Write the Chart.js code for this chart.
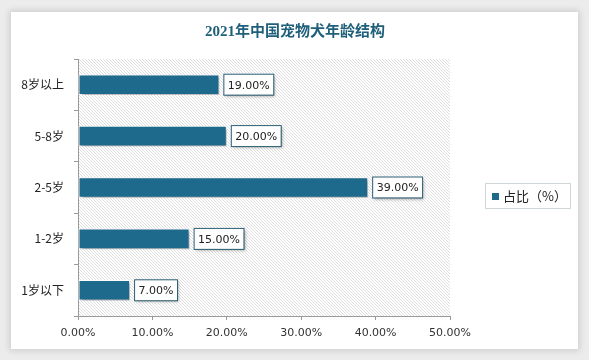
<!DOCTYPE html>
<html>
<head>
<meta charset="utf-8">
<script src="https://cdn.jsdelivr.net/npm/chart.js@4"></script>
<style>
  html, body { margin: 0; padding: 0; background: #ececec; }
  #wrap { position: relative; width: 589px; height: 360px; overflow: hidden; }
  #card { position: absolute; left: 11px; top: 12px; width: 567px; height: 337px;
          background: #fff; box-shadow: 0 0 6px 2px rgba(0,0,0,0.12); }
  #c { position: absolute; left: 0; top: 0; }
</style>
</head>
<body>
<div id="wrap">
  <div id="card"></div>
  <canvas id="c" width="589" height="360"></canvas>
</div>
<script>
const title = "2021年中国宠物犬年龄结构";
const categories = ["8岁以上", "5-8岁", "2-5岁", "1-2岁", "1岁以下"];
const shares = [19, 20, 39, 15, 7];
const seriesName = "占比（%）";

const barColor = "#1e6a8d";

// hatched plot background + title
const hatch = {
  id: "hatch",
  beforeDraw(chart) {
    const { ctx, chartArea: a } = chart;
    ctx.save();
    ctx.beginPath();
    ctx.rect(a.left, a.top, a.right - a.left, a.bottom - a.top);
    ctx.clip();
    ctx.strokeStyle = "#d6d6d6";
    ctx.lineWidth = 0.8;
    const h = a.bottom - a.top;
    for (let x = a.left - h; x < a.right; x += 3) {
      ctx.beginPath();
      ctx.moveTo(x, a.top);
      ctx.lineTo(x + h, a.bottom);
      ctx.stroke();
    }
    ctx.restore();

    ctx.save();
    ctx.fillStyle = "#1f5f7a";
    ctx.font = "bold 15px 'Liberation Serif', 'Noto Sans CJK SC', serif";
    ctx.textAlign = "center";
    ctx.textBaseline = "middle";
    ctx.fillText(title, 295, 32);
    ctx.restore();
  }
};

const shadow = {
  id: "shadow",
  beforeDatasetsDraw(chart) {
    const ctx = chart.ctx;
    ctx.save();
    ctx.shadowColor = "rgba(0,0,0,0.35)";
    ctx.shadowOffsetX = 2;
    ctx.shadowOffsetY = 2;
    ctx.shadowBlur = 3;
  },
  afterDatasetsDraw(chart) {
    const ctx = chart.ctx;
    ctx.restore();
    // value labels
    const meta = chart.getDatasetMeta(0);
    ctx.save();
    ctx.font = "11px 'DejaVu Sans', sans-serif";
    ctx.textBaseline = "middle";
    meta.data.forEach((bar, i) => {
      const txt = shares[i].toFixed(2) + "%";
      const w = ctx.measureText(txt).width + 8;
      const x = bar.x + 4, y = bar.y - 11;
      ctx.save();
      ctx.shadowColor = "rgba(0,0,0,0.3)";
      ctx.shadowOffsetX = 2;
      ctx.shadowOffsetY = 2;
      ctx.shadowBlur = 3;
      ctx.fillStyle = "#fff";
      ctx.fillRect(x, y, w, 21);
      ctx.restore();
      ctx.strokeStyle = "#2a5d73";
      ctx.lineWidth = 1;
      ctx.strokeRect(x + 0.5, y + 0.5, w, 21);
      ctx.fillStyle = "#222";
      ctx.fillText(txt, x + 4.5, bar.y + 1);
    });
    ctx.restore();

    // legend
    ctx.save();
    ctx.strokeStyle = "#cfd6da";
    ctx.lineWidth = 1;
    ctx.strokeRect(485.5, 183.5, 85, 25);
    ctx.fillStyle = barColor;
    ctx.fillRect(492, 193, 7, 7);
    ctx.fillStyle = "#222";
    ctx.font = "13px 'Noto Sans CJK SC', sans-serif";
    ctx.textBaseline = "middle";
    ctx.fillText(seriesName, 503, 196);
    ctx.restore();
  }
};

new Chart(document.getElementById("c"), {
  type: "bar",
  data: {
    labels: categories,
    datasets: [{
      label: seriesName,
      data: shares,
      backgroundColor: barColor,
      borderColor: "#ffffff",
      borderWidth: 1,
      borderSkipped: false,
      barPercentage: 0.4,
      categoryPercentage: 1
    }]
  },
  options: {
    indexAxis: "y",
    responsive: false,
    animation: false,
    layout: { padding: { top: 59, right: 139, bottom: 8, left: 0 } },
    plugins: { legend: { display: false }, tooltip: { enabled: false } },
    scales: {
      x: {
        min: 0, max: 50,
        afterFit(s) { s.height = 36; },
        border: { color: "#9a9a9a" },
        grid: { drawOnChartArea: false, color: "#9a9a9a", tickLength: 4 },
        ticks: {
          stepSize: 10, color: "#333", padding: 7,
          font: { family: "'DejaVu Sans', sans-serif", size: 11 },
          callback: v => v.toFixed(2) + "%"
        }
      },
      y: {
        afterFit(s) { s.width = 78; },
        border: { color: "#9a9a9a" },
        grid: { drawOnChartArea: false, offset: true, color: "#9a9a9a", tickLength: 4 },
        ticks: {
          color: "#222", padding: 10,
          font: { family: "'Noto Sans CJK SC', sans-serif", size: 12 }
        }
      }
    }
  },
  plugins: [hatch, shadow]
});
</script>
</body>
</html>
